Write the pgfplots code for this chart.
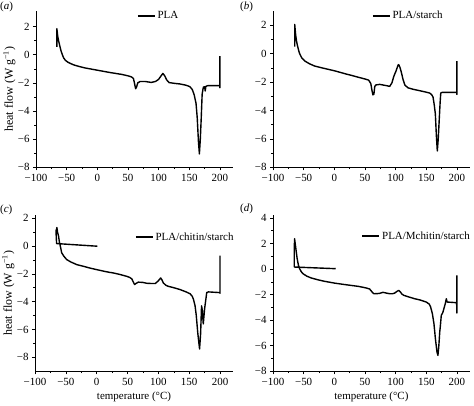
\documentclass[border=0pt]{standalone}
\usepackage{pgfplots}
\pgfplotsset{compat=1.18}
\usepackage{fontspec}
\setmainfont{Liberation Serif}
\newcommand{\fs}{\fontsize{11}{13}\selectfont}
\newcommand{\fy}{\fontsize{12}{14}\selectfont}
\pgfplotsset{panel/.style={
  scale only axis,
  axis x line*=bottom, axis y line*=left,
  axis line style={-, line width=0.6pt},
  tick align=outside, major tick length=3bp, minor tick length=1.8bp,
  tick style={line width=0.5pt, black},
  xmin=-100, xmax=221,
  xtick={-100,-50,...,200},
  xticklabels={−100,−50,0,50,100,150,200},
  minor x tick num=1, minor y tick num=1,
  tick label style={font=\fs},
  xlabel style={font=\fs},
  ylabel style={font=\fy, at={(axis description cs:-0.135,0.5)}, anchor=center},
  legend style={draw=none, fill=none, anchor=west, font=\fs, inner sep=0pt},
  legend cell align=left,
  clip=false,
},
curve/.style={black, line width=1.4pt, line join=round, mark=none}}
\begin{document}
\begin{tikzpicture}
\useasboundingbox (0,0) rectangle (474bp,406bp);
% (a)
\begin{axis}[panel, at={(36bp,238.7bp)}, anchor=south west,
  width=196.8bp, height=156.2bp, ymin=-8, ymax=3.1,
  ytick={-8,-6,...,2}, yticklabels={−8,−6,−4,−2,0,2},
  ylabel={heat flow (W g\textsuperscript{−1})},
  legend style={at={(0.513,0.969)}}]
\addplot[curve] table {
-66 0.55
-66 1.85
-64.5 1.3
-63 0.95
-61 0.6
-59 0.25
-57 0.0
-55 -0.22
-52 -0.4
-48 -0.53
-44 -0.62
-38 -0.73
-30 -0.83
-20 -0.94
-10 -1.02
0 -1.1
10 -1.18
20 -1.26
30 -1.33
40 -1.4
50 -1.5
56 -1.58
59 -1.7
61 -2.1
62.5 -2.42
64 -2.3
66 -2.0
70 -1.9
78 -1.9
88 -1.97
95 -1.9
100 -1.75
104 -1.5
107 -1.33
110 -1.5
113 -1.78
117 -1.98
125 -2.03
135 -2.08
145 -2.17
151 -2.27
155 -2.48
158 -2.85
161 -3.45
163 -4.5
165 -6.2
166.5 -7.05
168 -6.0
169.5 -4.5
171 -2.8
173 -2.3
175 -2.28
176 -2.58
177 -2.25
180 -2.2
199.5 -2.2
200 -2.35
200 -0.1
};
\addlegendentry{PLA}
\end{axis}
% (b)
\begin{axis}[panel, at={(273bp,238.7bp)}, anchor=south west,
  width=196.8bp, height=156.2bp, ymin=-8, ymax=3,
  ytick={-8,-6,...,2}, yticklabels={−8,−6,−4,−2,0,2},
  legend style={at={(0.503,0.969)}}]
\addplot[curve] table {
-64.6 0.5
-64.6 2.06
-63 1.3
-61.5 0.85
-60 0.55
-58 0.2
-56.5 0.0
-53 -0.3
-48 -0.52
-40 -0.72
-32 -0.87
-20 -1.0
-10 -1.1
0 -1.2
10 -1.32
20 -1.44
30 -1.55
40 -1.67
50 -1.78
56 -1.86
59.5 -2.1
61.5 -2.6
63 -2.9
64.6 -2.85
66 -2.3
68 -2.2
74 -2.16
85 -2.25
90.4 -2.3
94 -2.05
97 -1.6
101 -1.18
104 -0.8
105 -0.77
107 -0.95
109.3 -1.3
112 -1.8
115 -2.2
120 -2.4
128 -2.5
136.5 -2.58
146 -2.67
155.6 -2.77
159 -2.9
161 -3.05
163 -3.6
164.8 -4.23
166.5 -5.8
168 -6.85
169.5 -6.0
170.8 -4.93
172.5 -3.5
173.6 -2.77
176 -2.72
180 -2.72
199.5 -2.72
200 -2.87
200 -0.52
};
\addlegendentry{PLA/starch}
\end{axis}
% (c)
\begin{axis}[panel, at={(35bp,34.7bp)}, anchor=south west,
  width=198bp, height=156bp, ymin=-9, ymax=2.2,
  ytick={-8,-6,...,2}, yticklabels={−8,−6,−4,−2,0,2},
  ylabel={heat flow (W g\textsuperscript{−1})},
  xlabel={temperature (°C)},
  legend style={at={(0.505,0.861)}}]
\addplot[curve] table {
1 -0.02
-65 0.17
-66 1.1
-65 1.2
-64.5 1.32
-63.5 1.0
-61.8 0.7
-60.5 0.3
-59 0.0
-56.7 -0.5
-53 -0.75
-48.6 -0.98
-42 -1.15
-32.4 -1.34
-20 -1.48
-10 -1.6
0 -1.7
10 -1.8
20 -1.89
27 -1.94
37.8 -2.05
48.6 -2.18
54 -2.27
57 -2.37
59.5 -2.6
61.5 -2.77
63.5 -2.7
67.5 -2.6
75 -2.62
81 -2.68
90 -2.7
95 -2.7
100 -2.5
103.7 -2.3
106 -2.45
108 -2.65
112 -2.82
116 -2.9
125 -3.0
135 -3.13
145 -3.3
151.6 -3.44
155 -3.62
157 -3.85
159.5 -4.3
161.3 -4.93
164 -6.3
166.8 -7.4
168.5 -6.3
170 -4.3
171.2 -4.6
172.8 -5.6
175 -4.5
178.4 -3.35
181 -3.3
199.5 -3.35
200 -3.4
200 -0.7
};
\addlegendentry{PLA/chitin/starch}
\end{axis}
% (d)
\begin{axis}[panel, at={(273bp,34.7bp)}, anchor=south west,
  width=196.8bp, height=155.9bp, ymin=-8, ymax=4.2,
  ytick={-8,-6,...,4}, yticklabels={−8,−6,−4,−2,0,2,4},
  xlabel={temperature (°C)},
  legend style={at={(0.45,0.868)}}]
\addplot[curve] table {
2.3 0.03
-65.3 0.16
-65.3 1.6
-64.8 2.38
-63 1.7
-60.6 0.81
-58.5 0.3
-56.6 0.03
-54 -0.2
-51.2 -0.36
-45 -0.55
-37.5 -0.7
-25 -0.86
-15.7 -0.96
0.6 -1.1
15 -1.2
27.7 -1.28
40 -1.36
52.2 -1.48
57.6 -1.56
60 -1.7
62.5 -1.85
64.8 -1.93
70 -1.92
74 -1.9
79.4 -1.82
85 -1.88
90.2 -1.93
95 -1.93
98.4 -1.88
102 -1.75
105 -1.67
108 -1.8
110 -1.95
113.6 -2.06
120 -2.16
131 -2.32
140 -2.42
150 -2.58
155 -2.75
157.1 -2.97
160 -3.5
162.5 -4.27
165 -5.5
167.5 -6.5
169 -6.75
170.5 -6.0
172 -4.9
172.8 -4.54
174.5 -3.62
177 -3.4
179 -3.05
181 -2.71
182.7 -2.32
184 -2.58
190 -2.6
199.5 -2.63
200 -3.44
200 -0.49
};
\addlegendentry{PLA/Mchitin/starch}
\end{axis}
\node[anchor=west, inner sep=0pt, font=\fs] at (0bp,399bp) {(\textit{a})};
\node[anchor=west, inner sep=0pt, font=\fs] at (240bp,399bp) {(\textit{b})};
\node[anchor=west, inner sep=0pt, font=\fs] at (0bp,196bp) {(\textit{c})};
\node[anchor=west, inner sep=0pt, font=\fs] at (240bp,197bp) {(\textit{d})};
\end{tikzpicture}
\end{document}
